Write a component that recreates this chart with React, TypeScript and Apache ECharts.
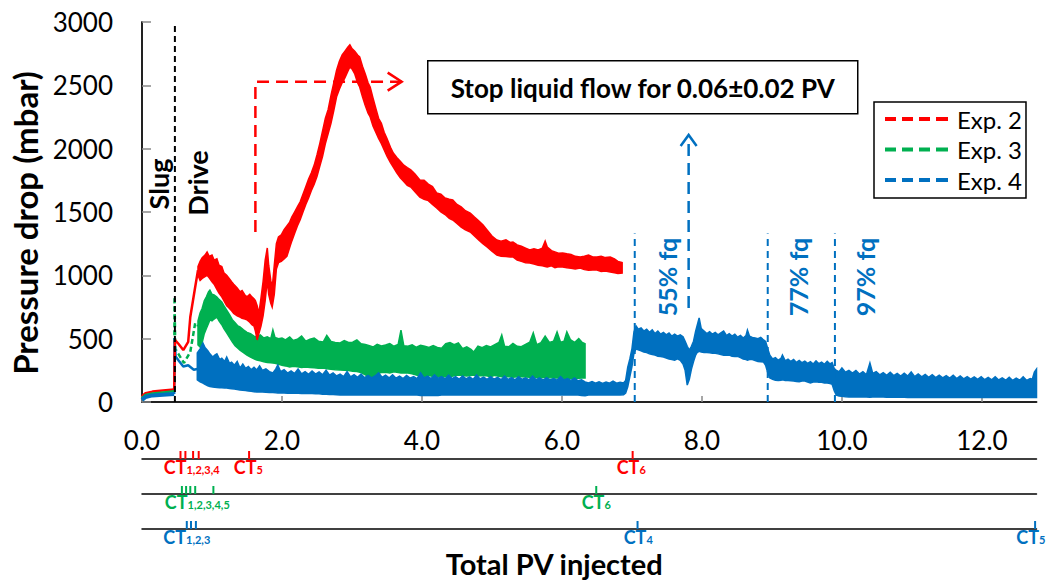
import React, { useEffect, useRef } from 'react';
import * as echarts from 'echarts';

const RED = '#FF0000';
const GREEN = '#00B050';
const BLUE = '#0070C0';
const GRAY = '#898989';
const FONT = 'Lato';
const X_MAX = 12.78;

// Y ticks (mbar) and x ticks (PV)
const yTicks = { min: 0, max: 3000, step: 500 };
const xTicks = { min: 0, max: X_MAX, step: 2 };

// Pre-slug baseline readings [PV, mbar]
const exp2Pre = [[0, 45], [0.05, 70], [0.15, 82], [0.3, 90], [0.46, 98]];
const exp3Pre = [[0, 30], [0.05, 55], [0.15, 68], [0.3, 76], [0.46, 84]];
const exp4Pre = [[0, 15], [0.05, 40], [0.15, 52], [0.3, 58], [0.46, 64]];

// Sparse segments right after the slug [PV, mbar]
const exp2Link = [[0.46, 98], [0.47, 490], [0.52, 460], [0.59, 410], [0.66, 474], [0.69, 671], [0.76, 908], [0.8, 1040]];
const exp3Link = [[0.46, 84], [0.465, 830], [0.475, 420], [0.52, 380], [0.6, 308], [0.69, 395], [0.76, 624], [0.8, 600]];
const exp4Link = [[0.46, 64], [0.465, 505], [0.48, 360], [0.52, 330], [0.59, 280], [0.66, 290], [0.74, 255], [0.79, 260]];

// Noisy signal envelopes [PV, low, high] in mbar
const exp2Band = [
  [0.80,1000,1070],[0.83,960,1110],[0.86,975,1140],[0.90,990,1160],[0.93,1000,1185],[0.96,980,1150],[1.00,950,1160],[1.03,930,1120],
  [1.07,890,1130],[1.10,860,1080],[1.14,830,1070],[1.17,800,1020],[1.21,760,1000],[1.24,745,980],[1.28,720,950],[1.31,700,930],
  [1.36,680,900],[1.40,670,870],[1.43,660,880],[1.47,655,845],[1.50,648,830],[1.54,630,850],[1.57,610,830],[1.60,600,815],
  [1.62,560,800],[1.645,490,760],[1.67,540,700],[1.70,600,820],[1.73,680,950],[1.76,800,1120],[1.79,960,1216],[1.81,850,1080],
  [1.84,780,960],[1.86,750,900],[1.89,850,1080],[1.92,1050,1250],[1.95,1100,1303],[1.99,1110,1320],[2.03,1130,1360],[2.07,1150,1390],
  [2.11,1220,1420],[2.14,1270,1460],[2.18,1330,1500],[2.22,1390,1540],[2.26,1440,1580],[2.30,1500,1640],[2.34,1560,1700],[2.38,1610,1760],
  [2.42,1670,1810],[2.46,1720,1870],[2.50,1780,1950],[2.54,1860,2040],[2.58,1940,2140],[2.62,2040,2240],[2.66,2120,2310],[2.70,2200,2420],
  [2.74,2300,2520],[2.78,2410,2620],[2.82,2470,2690],[2.86,2520,2740],[2.90,2560,2770],[2.94,2610,2800],[2.97,2645,2820],[3.00,2630,2790],
  [3.04,2590,2770],[3.08,2520,2740],[3.11,2487,2724],[3.15,2410,2650],[3.19,2340,2590],[3.23,2280,2520],[3.26,2250,2487],[3.30,2180,2400],
  [3.34,2130,2320],[3.38,2080,2240],[3.42,2040,2200],[3.46,1990,2130],[3.50,1940,2080],[3.55,1890,2010],[3.59,1855,1966],[3.64,1810,1930],
  [3.69,1770,1900],[3.74,1740,1870],[3.79,1710,1850],[3.84,1697,1832],[3.90,1660,1800],[3.97,1618,1753],[4.03,1600,1750],[4.09,1590,1720],
  [4.15,1560,1700],[4.21,1532,1650],[4.27,1500,1640],[4.33,1480,1610],[4.39,1450,1600],[4.44,1437,1595],[4.50,1410,1560],[4.56,1380,1540],
  [4.62,1360,1510],[4.69,1342,1492],[4.75,1310,1460],[4.81,1280,1430],[4.87,1250,1400],[4.93,1224,1358],[5.00,1190,1310],[5.07,1160,1279],
  [5.13,1150,1270],[5.20,1148,1280],[5.26,1145,1260],[5.30,1145,1263],[5.36,1120,1240],[5.42,1110,1230],[5.48,1100,1215],[5.54,1097,1200],
  [5.60,1090,1210],[5.66,1080,1200],[5.72,1075,1215],[5.76,1070,1270],[5.79,1066,1224],[5.85,1075,1195],[5.90,1060,1185],[5.95,1068,1175],
  [6.01,1066,1176],[6.07,1060,1170],[6.13,1055,1165],[6.19,1050,1150],[6.26,1058,1145],[6.32,1045,1150],[6.38,1040,1160],[6.44,1042,1145],
  [6.50,1042,1145],[6.56,1030,1150],[6.62,1035,1140],[6.69,1026,1145],[6.75,1020,1130],[6.80,1015,1110],[6.86,1018,1100]
];

const exp3Band = [
  [0.80,450,640],[0.83,434,703],[0.86,470,740],[0.89,540,800],[0.92,580,830],[0.95,620,870],[0.97,648,884],[1.00,640,850],
  [1.03,655,845],[1.07,671,829],[1.10,640,810],[1.14,610,790],[1.17,580,760],[1.21,545,726],[1.25,510,690],[1.29,475,650],
  [1.33,445,625],[1.37,425,600],[1.40,410,592],[1.45,390,570],[1.50,370,550],[1.55,355,540],[1.60,340,520],[1.64,332,513],
  [1.69,325,530],[1.74,318,505],[1.79,312,515],[1.84,310,500],[1.87,308,568],[1.90,305,510],[1.95,298,500],[2.00,290,505],
  [2.05,285,490],[2.11,276,513],[2.16,282,485],[2.22,278,495],[2.28,272,520],[2.34,276,480],[2.40,272,495],[2.46,270,505],
  [2.52,266,480],[2.59,268,474],[2.64,262,525],[2.70,258,478],[2.76,255,470],[2.83,253,466],[2.89,250,485],[2.95,248,470],
  [3.01,242,472],[3.07,240,490],[3.13,232,460],[3.19,215,455],[3.25,198,445],[3.30,197,434],[3.36,225,455],[3.42,232,442],
  [3.48,235,450],[3.54,230,462],[3.60,238,440],[3.66,232,455],[3.70,229,568],[3.74,229,445],[3.80,229,440],[3.86,222,452],
  [3.92,212,432],[3.98,205,448],[4.04,200,440],[4.10,210,430],[4.16,202,445],[4.22,200,430],[4.28,197,425],[4.34,200,460],
  [4.40,200,470],[4.46,208,452],[4.52,213,466],[4.58,210,420],[4.64,205,435],[4.70,210,415],[4.74,213,395],[4.80,205,440],
  [4.86,210,428],[4.92,208,445],[4.98,200,434],[5.04,210,452],[5.10,204,470],[5.14,200,529],[5.18,202,440],[5.24,200,436],
  [5.30,195,462],[5.36,200,440],[5.42,200,436],[5.48,198,455],[5.54,195,472],[5.59,190,545],[5.64,195,452],[5.70,190,468],
  [5.76,195,520],[5.82,192,470],[5.88,190,480],[5.93,190,553],[5.98,190,472],[6.03,188,480],[6.07,185,553],[6.12,190,492],
  [6.18,188,470],[6.24,188,500],[6.29,190,470],[6.33,190,460]
];

const exp4Band = [
  [0.79,174,387],[0.83,160,420],[0.87,150,466],[0.90,140,430],[0.94,128,405],[0.97,122,380],[1.01,118,355],[1.04,116,370],
  [1.07,115,380],[1.11,113,335],[1.14,112,345],[1.18,111,320],[1.21,110,355],[1.25,107,305],[1.28,105,315],[1.32,102,290],
  [1.36,98,320],[1.40,95,268],[1.44,92,300],[1.48,90,265],[1.52,86,280],[1.56,84,255],[1.60,80,275],[1.64,79,253],
  [1.68,78,285],[1.72,78,250],[1.77,76,262],[1.82,75,240],[1.87,75,229],[1.91,73,260],[1.94,72,292],[1.98,72,240],
  [2.03,71,255],[2.08,70,228],[2.13,70,245],[2.18,70,225],[2.23,69,260],[2.28,68,222],[2.33,68,240],[2.38,70,218],
  [2.43,68,245],[2.48,65,220],[2.53,65,238],[2.58,62,215],[2.63,62,250],[2.68,60,212],[2.73,60,230],[2.78,58,205],
  [2.83,55,220],[2.88,55,200],[2.93,55,240],[2.98,55,198],[3.03,55,215],[3.08,55,195],[3.13,55,220],[3.18,55,192],
  [3.23,55,210],[3.28,55,190],[3.33,55,205],[3.38,55,230],[3.43,55,195],[3.48,55,212],[3.53,55,190],[3.58,55,215],
  [3.63,55,188],[3.68,55,205],[3.73,55,185],[3.78,55,210],[3.83,55,188],[3.88,55,200],[3.93,55,185],[3.98,52,230],
  [4.03,52,190],[4.08,52,205],[4.13,52,185],[4.18,52,215],[4.23,52,188],[4.28,55,200],[4.33,55,182],[4.38,55,213],
  [4.43,55,185],[4.48,55,200],[4.53,55,180],[4.58,55,205],[4.63,55,182],[4.68,55,198],[4.73,55,178],[4.78,55,213],
  [4.83,55,182],[4.88,55,196],[4.93,55,178],[4.98,55,200],[5.03,55,180],[5.08,55,195],[5.13,55,176],[5.18,55,205],
  [5.23,55,178],[5.28,55,192],[5.33,55,175],[5.38,55,200],[5.43,55,178],[5.48,55,190],[5.53,55,175],[5.58,55,205],
  [5.63,55,176],[5.68,55,190],[5.73,55,172],[5.78,55,192],[5.83,55,175],[5.88,55,185],[5.93,55,172],[5.98,55,200],
  [6.03,55,174],[6.08,55,185],[6.13,55,170],[6.18,55,190],[6.23,55,168],[6.28,52,175],[6.33,50,158],[6.38,55,150],
  [6.43,55,162],[6.48,55,148],[6.53,55,160],[6.58,55,146],[6.63,55,158],[6.68,55,148],[6.73,55,165],[6.78,55,148],
  [6.83,55,155],[6.88,58,150],[6.91,70,170],[6.94,120,276],[6.97,200,340],[7.00,280,420],[7.03,390,560],[7.06,420,600],
  [7.09,412,575],[7.13,405,585],[7.17,395,560],[7.21,390,575],[7.25,380,550],[7.29,375,570],[7.33,370,540],[7.37,362,560],
  [7.41,360,535],[7.45,355,550],[7.49,348,530],[7.53,340,545],[7.57,335,520],[7.61,330,535],[7.65,340,520],[7.69,330,530],
  [7.73,300,515],[7.76,250,480],[7.79,134,440],[7.82,180,410],[7.85,260,440],[7.88,320,480],[7.91,370,560],[7.93,390,600],
  [7.96,400,663],[7.99,395,580],[8.03,390,560],[8.07,390,540],[8.11,388,555],[8.15,385,535],[8.19,385,550],[8.23,380,530],
  [8.27,375,545],[8.31,370,560],[8.35,372,525],[8.39,370,540],[8.43,362,520],[8.47,360,535],[8.51,360,512],[8.55,350,525],
  [8.59,340,505],[8.63,335,525],[8.65,330,568],[8.68,335,520],[8.72,335,510],[8.76,328,505],[8.80,320,500],[8.84,318,510],
  [8.88,316,490],[8.91,290,478],[8.94,230,420],[8.97,190,370],[9.01,180,340],[9.05,172,350],[9.09,170,330],[9.13,172,345],
  [9.15,175,371],[9.19,170,325],[9.23,170,338],[9.27,168,320],[9.31,165,335],[9.35,162,312],[9.39,160,328],[9.43,165,310],
  [9.47,165,322],[9.51,158,305],[9.55,150,318],[9.59,158,300],[9.63,160,325],[9.67,155,302],[9.71,155,315],[9.75,150,298],
  [9.79,150,322],[9.83,145,300],[9.86,140,310],[9.89,90,265],[9.92,55,250],[9.96,48,240],[10.00,45,268],[10.05,42,235],
  [10.10,40,250],[10.15,40,228],[10.20,40,248],[10.25,40,220],[10.30,40,240],[10.35,40,215],[10.40,38,308],[10.44,40,225],
  [10.49,40,240],[10.54,40,215],[10.59,40,232],[10.64,38,210],[10.69,38,235],[10.74,38,208],[10.79,38,225],[10.84,38,205],
  [10.89,38,228],[10.94,36,205],[10.99,36,237],[11.04,35,200],[11.09,35,222],[11.14,35,198],[11.19,35,218],[11.24,35,195],
  [11.29,35,215],[11.34,35,192],[11.39,35,212],[11.44,35,190],[11.49,35,208],[11.54,35,188],[11.59,35,212],[11.64,35,185],
  [11.69,35,205],[11.74,35,182],[11.79,35,200],[11.84,35,180],[11.89,35,198],[11.94,35,178],[11.99,35,200],[12.04,35,176],
  [12.09,35,195],[12.14,35,175],[12.19,35,200],[12.24,35,174],[12.29,35,190],[12.34,35,172],[12.39,35,195],[12.44,35,170],
  [12.49,35,188],[12.54,35,172],[12.59,35,198],[12.64,35,170],[12.69,35,185],[12.72,35,180],[12.75,35,237],[12.78,35,260]
];

// Annotations
const slugPV = 0.47;
const fqLinesPV = [7.04, 8.94, 9.9];
const fqLineTop = 1330;
const fqLabels = [{ x: 7.5, y: 987, text: '55% fq' }, { x: 9.37, y: 987, text: '77% fq' }, { x: 10.33, y: 987, text: '97% fq' }];
const phaseLabels = [{ x: 0.23, y: 1721, text: 'Slug' }, { x: 0.79, y: 1729, text: 'Drive' }];
const redArrow = [[1.62, 1342], [1.62, 2529], [3.71, 2529]];
const blueArrow = [[7.81, 742], [7.81, 2108]];
const boxText = 'Stop liquid flow for 0.06±0.02 PV';

// CT timelines: tick positions (PV) and label groups
const ctRedTicks = [0.55, 0.62, 0.73, 0.81, 1.53, 7.01];
const ctGreenTicks = [0.57, 0.63, 0.69, 0.76, 1.02, 6.49];
const ctBlueTicks = [0.64, 0.70, 0.77, 7.08, 12.76];
const ctRedLabels = [{ x: 0.71, sub: '1,2,3,4' }, { x: 1.52, sub: '5' }, { x: 6.99, sub: '6' }];
const ctGreenLabels = [{ x: 0.79, sub: '1,2,3,4,5' }, { x: 6.49, sub: '6' }];
const ctBlueLabels = [{ x: 0.64, sub: '1,2,3' }, { x: 7.09, sub: '4' }, { x: 12.7, sub: '5' }];

const timelineY = [459, 494, 529];

function bandSeries(name: string, color: string, rows: number[][], z: number) {
  return {
    type: 'custom',
    name,
    xAxisIndex: 0,
    yAxisIndex: 0,
    z,
    silent: true,
    itemStyle: { color },
    data: rows,
    encode: { x: 0, y: [1, 2] },
    renderItem: (params: any, api: any) => {
      if (params.dataIndex !== 0) return null;
      const top = rows.map((r) => api.coord([r[0], r[2]]));
      const bot = rows.map((r) => api.coord([r[0], r[1]])).reverse();
      return {
        type: 'polygon',
        shape: { points: top.concat(bot) },
        style: { fill: color, stroke: color, lineWidth: 1.5 },
      };
    },
  };
}

function lineSeries(data: number[][], color: string, width: number, dash: any, z: number) {
  return {
    type: 'line',
    xAxisIndex: 0,
    yAxisIndex: 0,
    data,
    z,
    silent: true,
    symbol: 'none',
    lineStyle: { color, width, type: dash },
  };
}

function arrowSeries(path: number[][], color: string, hl: number, hw: number) {
  return {
    type: 'custom',
    xAxisIndex: 0,
    yAxisIndex: 0,
    z: 6,
    silent: true,
    data: path,
    encode: { x: 0, y: 1 },
    renderItem: (params: any, api: any) => {
      if (params.dataIndex !== 0) return null;
      const pts = path.map((p) => api.coord(p));
      const a = pts[pts.length - 2];
      const b = pts[pts.length - 1];
      const dx = b[0] - a[0];
      const dy = b[1] - a[1];
      const L = Math.hypot(dx, dy) || 1;
      const ux = dx / L;
      const uy = dy / L;
      const p1 = [b[0] - ux * hl - uy * hw, b[1] - uy * hl + ux * hw];
      const p2 = [b[0] - ux * hl + uy * hw, b[1] - uy * hl - ux * hw];
      return {
        type: 'group',
        children: [
          { type: 'polyline', shape: { points: pts }, style: { stroke: color, lineWidth: 2.5, lineDash: [12, 7], fill: 'none' } },
          { type: 'polyline', shape: { points: [p1, b, p2] }, style: { stroke: color, lineWidth: 2.5, fill: 'none' } },
        ],
      };
    },
  };
}

// axis index of timeline k (0,1,2) = k + 2 (indices 0 and 1 belong to the main plot)
function ctTickSeries(k: number, ticks: number[], color: string) {
  return {
    type: 'scatter',
    xAxisIndex: k + 2,
    yAxisIndex: k + 2,
    silent: true,
    symbol: 'rect',
    symbolSize: [2, 8],
    symbolOffset: [0, -4],
    itemStyle: { color, opacity: 1 },
    data: ticks.map((x) => [x, 0]),
    z: 5,
  };
}

function ctLabelSeries(k: number, labels: { x: number; sub: string }[], color: string) {
  return {
    type: 'scatter',
    xAxisIndex: k + 2,
    yAxisIndex: k + 2,
    silent: true,
    symbolSize: 1,
    itemStyle: { color: 'rgba(0,0,0,0)', opacity: 1 },
    data: labels.map((l) => ({
      value: [l.x, 0],
      label: { formatter: '{a|CT}{b|' + l.sub + '}' },
    })),
    label: {
      show: true,
      position: 'bottom',
      distance: 0,
      rich: {
        a: { fontSize: 18, fontWeight: 'bold', color, fontFamily: FONT, lineHeight: 15 },
        b: { fontSize: 11, fontWeight: 'bold', color, fontFamily: FONT, lineHeight: 8, verticalAlign: 'bottom' },
      },
    },
    z: 5,
  };
}

function textSeries(items: { x: number; y: number; text: string }[], color: string, size: number) {
  return {
    type: 'scatter',
    xAxisIndex: 0,
    yAxisIndex: 0,
    silent: true,
    symbolSize: 1,
    itemStyle: { color: 'rgba(0,0,0,0)', opacity: 1 },
    data: items.map((t) => ({ value: [t.x, t.y], label: { formatter: t.text } })),
    label: {
      show: true,
      position: 'inside',
      rotate: 90,
      color,
      fontSize: size,
      fontWeight: 'bold',
      fontFamily: FONT,
    },
    z: 7,
  };
}

export default function App() {
  const ref = useRef<HTMLDivElement>(null);

  useEffect(() => {
    if (!ref.current) return;
    const chart = echarts.init(ref.current, null, { renderer: 'svg' });

    const gridLeft = 142;
    const gridRight = 12.5;
    const grids: any[] = [{ left: gridLeft, right: gridRight, top: 22, height: 380, outerBoundsMode: 'none', containLabel: false }];
    timelineY.forEach((y) =>
      grids.push({ left: gridLeft, right: gridRight, top: y - 10, height: 10, outerBoundsMode: 'none', containLabel: false })
    );

    const xAxes: any[] = [
      {
        type: 'value',
        gridIndex: 0,
        min: xTicks.min,
        max: xTicks.max,
        interval: xTicks.step,
        name: 'Total PV injected',
        nameLocation: 'middle',
        nameGap: 147,
        nameTextStyle: { fontSize: 29, fontWeight: 'bold', fontFamily: FONT, color: '#000', padding: [0, 70, 0, 0] },
        axisLine: { lineStyle: { color: GRAY, width: 2 } },
        axisTick: { inside: true, length: 6, lineStyle: { color: GRAY, width: 1.5 } },
        axisLabel: {
          formatter: (v: number) => v.toFixed(1),
          showMaxLabel: false,
          fontSize: 26,
          fontFamily: FONT,
          color: '#000',
          margin: 25,
        },
        splitLine: { show: false },
      },
      {
        type: 'value',
        gridIndex: 0,
        position: 'top',
        min: xTicks.min,
        max: xTicks.max,
        axisLine: { lineStyle: { color: '#000', width: 1.5 } },
        axisTick: { show: false },
        axisLabel: { show: false },
        splitLine: { show: false },
      },
    ];
    const yAxes: any[] = [
      {
        type: 'value',
        gridIndex: 0,
        min: yTicks.min,
        max: yTicks.max,
        interval: yTicks.step,
        name: 'Pressure drop (mbar)',
        nameLocation: 'middle',
        nameGap: 98,
        nameTextStyle: { fontSize: 33, fontWeight: 'bold', fontFamily: FONT, color: '#000', padding: [0, 22, 0, 0] },
        axisLine: { show: true, lineStyle: { color: GRAY, width: 2 } },
        axisTick: { show: true, inside: true, length: 9, lineStyle: { color: GRAY, width: 1.5 } },
        axisLabel: { fontSize: 26, fontFamily: FONT, color: '#000', margin: 29, formatter: (v: number) => String(v) },
        splitLine: { show: false },
      },
      {
        type: 'value',
        gridIndex: 0,
        position: 'right',
        min: yTicks.min,
        max: yTicks.max,
        axisLine: { show: true, lineStyle: { color: '#000', width: 1.5 } },
        axisTick: { show: false },
        axisLabel: { show: false },
        splitLine: { show: false },
      },
    ];
    timelineY.forEach((_, i) => {
      xAxes.push({
        type: 'value',
        gridIndex: i + 1,
        min: xTicks.min,
        max: xTicks.max,
        axisLine: { onZero: false, lineStyle: { color: '#000', width: 1.5 } },
        axisTick: { show: false },
        axisLabel: { show: false },
        splitLine: { show: false },
      });
      yAxes.push({ type: 'value', gridIndex: i + 1, min: 0, max: 1, show: false });
    });

    const series: any[] = [
      bandSeries('Exp. 3', GREEN, exp3Band, 2),
      bandSeries('Exp. 4', BLUE, exp4Band, 3),
      bandSeries('Exp. 2', RED, exp2Band, 4),
      lineSeries(exp2Pre, RED, 2.5, 'solid', 4),
      lineSeries(exp3Pre, GREEN, 2.5, 'solid', 4),
      lineSeries(exp4Pre, BLUE, 4, 'solid', 4),
      lineSeries(exp3Link, GREEN, 2.5, [5, 3], 3),
      lineSeries(exp4Link, BLUE, 2.5, 'solid', 3),
      lineSeries(exp2Link, RED, 2.5, 'solid', 4),
      lineSeries([[slugPV, yTicks.min], [slugPV, yTicks.max]], '#000', 2, [6, 4], 8),
      ...fqLinesPV.map((x) => lineSeries([[x, 0], [x, fqLineTop]], BLUE, 2, [7, 5], 8)),
      arrowSeries(redArrow, RED, 14, 9),
      arrowSeries(blueArrow, BLUE, 11, 8),
      textSeries(phaseLabels, '#000', 27),
      textSeries(fqLabels, BLUE, 25),
      ctTickSeries(0, ctRedTicks, RED),
      ctTickSeries(1, ctGreenTicks, GREEN),
      ctTickSeries(2, ctBlueTicks, BLUE),
      ctLabelSeries(0, ctRedLabels, RED),
      ctLabelSeries(1, ctGreenLabels, GREEN),
      ctLabelSeries(2, ctBlueLabels, BLUE),
    ];

    chart.setOption({
      animation: false,
      backgroundColor: '#fff',
      textStyle: { fontFamily: FONT },
      grid: grids,
      xAxis: xAxes,
      yAxis: yAxes,
      legend: {
        data: ['Exp. 2', 'Exp. 3', 'Exp. 4'],
        orient: 'vertical',
        left: 874,
        top: 102,
        padding: [4, 4, 5, 11],
        itemGap: 4.5,
        itemWidth: 63,
        itemHeight: 4,
        icon: 'path://M0,0h11v4H0z M17,0h11v4H17z M34,0h11v4H34z M51,0h12v4H51z',
        borderColor: '#000',
        borderWidth: 1.5,
        backgroundColor: '#fff',
        selectedMode: false,
        textStyle: { fontSize: 24, fontFamily: FONT, color: '#000', lineHeight: 26, padding: [0, 0, 0, 4] },
      },
      graphic: [
        {
          type: 'group',
          left: 427,
          top: 60,
          children: [
            { type: 'rect', shape: { x: 0, y: 0, width: 430, height: 53 }, style: { fill: '#fff', stroke: '#000', lineWidth: 1.5 } },
            {
              type: 'text',
              x: 215,
              y: 27,
              style: { text: boxText, fontSize: 26, fontWeight: 'bold', fontFamily: FONT, fill: '#000', align: 'center', verticalAlign: 'middle' },
            },
          ],
        },
      ],
      series,
    });

    return () => chart.dispose();
  }, []);

  return <div ref={ref} style={{ position: 'absolute', left: 0, top: 0, width: 1049, height: 581 }} />;
}
